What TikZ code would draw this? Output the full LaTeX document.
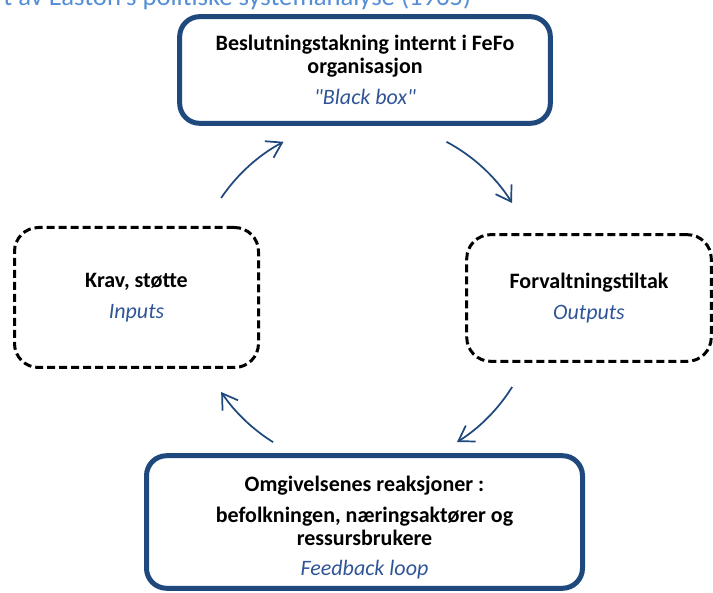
\documentclass[tikz,border=0pt]{standalone}
\usepackage{fontspec}
\setmainfont{Carlito}
\newfontfamily\plainquote{Carlito}
\usepackage{tikz}
\usetikzlibrary{arrows.meta}

\definecolor{boxblue}{HTML}{1F497D}
\definecolor{textblue}{HTML}{2F5597}
\definecolor{titleblue}{HTML}{558ED5}

\tikzset{
	mainbox/.style = {draw=boxblue, line width=3.75pt, rounded corners=15pt, align=center, inner sep=0pt},
	envbox/.style = {draw=black, line width=2.25pt, dash pattern=on 6pt off 3pt, rounded corners=18pt, align=center, inner sep=0pt},
	cycle arrow/.style = {draw=boxblue, line width=1.3pt, -{Straight Barb[length=11pt, width=14pt]}}
}
\newcommand{\lbl}[1]{{\color{textblue}\mdseries\itshape #1}}

\begin{document}
\begin{tikzpicture}[x = 0.75pt, y = 0.75pt, every node/.style = {font=\fontsize{16.5}{17}\selectfont\bfseries}]
							\useasboundingbox (0, 0) rectangle (713, 592);
							\clip (0, 0) rectangle (713, 592);

							\node[anchor=base east, text=titleblue, font=\fontsize{20}{24}\selectfont](title) at (476, 586){t av Easton's politiske systemanalyse (1965)};

							\node[mainbox, minimum width=278pt, minimum height=80pt](fefo) at (365, 522){Beslutningstakning internt i FeFo\\organisasjon\\[6pt]\lbl{{\plainquote "}Black box{\plainquote "}}};
							\node[envbox, minimum width=183pt, minimum height=105pt](inputs) at (136.5, 294.5){Krav, støtte\\[6pt]\lbl{Inputs}};
							\node[envbox, minimum width=183.4pt, minimum height=95pt](outputs) at (589, 294){Forvaltningstiltak\\[6pt]\lbl{Outputs}};
							\node[mainbox, minimum width=327pt, minimum height=99.4pt](reaksjon) at (364.5, 70){};
							\node[align=center](reaksjontekst) at ([yshift=-4.5pt]reaksjon.center){Omgivelsenes reaksjoner :\\[6pt]befolkningen, næringsaktører og\\ressursbrukere\\[6pt]\lbl{Feedback loop}};

							\coordinate[](hub) at (365, 297);
							\foreach \s/\e [count=\i] in {146/118, 62/32, -32/-58, -122/-146}
								\draw[cycle arrow] ([shift={(\s:173.5)}]hub) coordinate (arc\i) arc[start angle=\s, end angle=\e, radius=173.5];
						\end{tikzpicture}
\end{document}
